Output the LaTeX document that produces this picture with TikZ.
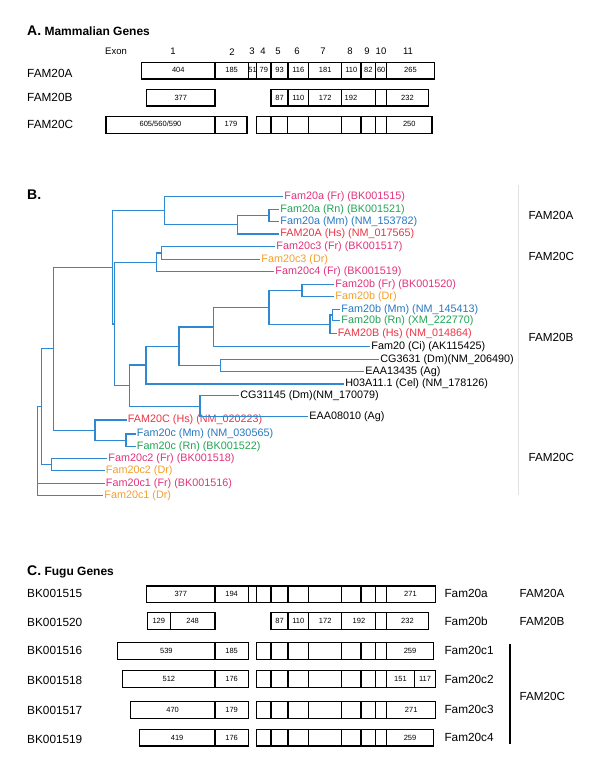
\documentclass[tikz,border=0pt]{standalone}
\usepackage{fontspec}
\setmainfont{Liberation Sans}
\definecolor{cfr}{HTML}{E0347C}
\definecolor{crn}{HTML}{22A555}
\definecolor{cmm}{HTML}{2878C2}
\definecolor{chs}{HTML}{EE3444}
\definecolor{cdr}{HTML}{F5A02C}
\definecolor{ctree}{HTML}{2F88D2}
\definecolor{cgrey}{HTML}{E2E2E2}
\begin{document}
\begin{tikzpicture}[x=1pt,y=-1pt,
  title/.style={anchor=west,inner sep=0pt,font=\bfseries\fontsize{12}{14}\selectfont},
  rowlab/.style={anchor=west,inner sep=0pt,font=\fontsize{11.8}{14}\selectfont},
  hdr/.style={inner sep=0pt,font=\fontsize{9.5}{11}\selectfont},
  num/.style={inner sep=0pt,font=\fontsize{7.5}{9}\selectfont},
  exonbox/.style={draw=black,line width=1.5pt},
  leaf/.style={anchor=west,inner xsep=1.2pt,inner ysep=0pt,font=\fontsize{10.8}{13}\selectfont},
  branch/.style={draw=ctree,line width=1.3pt},
  famlab/.style={anchor=west,inner sep=0pt,font=\fontsize{11.7}{14}\selectfont}]
\useasboundingbox (0,0) rectangle (600,770);
\fill[white] (0,0) rectangle (600,770);

%%%%%%%%%%%%%%%% Panel A
\node[title] (tA) at (27,30.7) {{\fontsize{14}{16}\selectfont A.} Mammalian Genes};
\node[hdr] (hex) at (116,51.7) {Exon};
\foreach \n/\x in {1/173,2/232,3/252,4/263,5/278,6/297,7/323,8/350,9/367,10/381,11/408}
  \node[hdr] (h\n) at (\x,51.7) {\n};

\node[rowlab] (rA) at (27,73.3) {FAM20A};
\node[rowlab] (rB) at (27,97.3) {FAM20B};
\node[rowlab] (rC) at (27,124.3) {FAM20C};

% FAM20A
\draw[exonbox] (141.7,62.3) rectangle (434.3,79);
\foreach \x in {215,248.3,256.7,271,288,308.7,341.7,361,375.7,386.7}
  \draw[exonbox] (\x,62.3) -- (\x,79);
\foreach \t/\x in {404/178.3,185/231.6,51/252.5,79/263.8,93/279.5,116/298.3,181/325.2,110/351.3,82/368.3,60/381.2,265/410.5}
  \node[num] at (\x,70.3) {\t};

% FAM20B
\draw[exonbox] (146.7,89.7) rectangle (215,106);
\node[num] at (180.8,97.5) {377};
\draw[exonbox] (271,89.7) rectangle (428.3,106);
\foreach \x in {288,308.7,341.7,375.7,386.7}
  \draw[exonbox] (\x,89.7) -- (\x,106);
\foreach \t/\x in {87/279.5,110/298.3,172/325.2,192/351,232/407.5}
  \node[num] at (\x,97.5) {\t};

% FAM20C
\draw[exonbox] (106,116.3) rectangle (247,133.3);
\draw[exonbox] (215,116.3) -- (215,133.3);
\node[num] at (160.5,124.3) {605/560/590};
\node[num] at (231,124.3) {179};
\draw[exonbox] (256.7,116.3) rectangle (432,133.3);
\foreach \x in {271,287.3,308.7,341.7,361,375.7,386.7}
  \draw[exonbox] (\x,116.3) -- (\x,133.3);
\node[num] at (409.3,124.3) {250};

%%%%%%%%%%%%%%%% Panel B
\node[title] (tB) at (27,195) {{\fontsize{14}{16}\selectfont B.}};

% leaves
\node[leaf,text=cfr] (l1) at (283,196.7) {Fam20a (Fr) (BK001515)};
\node[leaf,text=crn] (l2) at (279,209.3) {Fam20a (Rn) (BK001521)};
\node[leaf,text=cmm] (l3) at (279,221.7) {Fam20a (Mm) (NM\_153782)};
\node[leaf,text=chs] (l4) at (279,234) {FAM20A (Hs) (NM\_017565)};
\node[leaf,text=cfr] (l5) at (275,246.7) {Fam20c3 (Fr) (BK001517)};
\node[leaf,text=cdr] (l6) at (260,259.3) {Fam20c3 (Dr)};
\node[leaf,text=cfr] (l7) at (274,271.7) {Fam20c4 (Fr) (BK001519)};
\node[leaf,text=cfr] (l8) at (334,284.3) {Fam20b (Fr) (BK001520)};
\node[leaf,text=cdr] (l9) at (334,296.7) {Fam20b (Dr)};
\node[leaf,text=cmm] (l10) at (340,309.3) {Fam20b (Mm) (NM\_145413)};
\node[leaf,text=crn] (l11) at (340,320.7) {Fam20b (Rn) (XM\_222770)};
\node[leaf,text=chs] (l12) at (336.5,333.3) {FAM20B (Hs) (NM\_014864)};
\node[leaf] (l13) at (370,346.7) {Fam20 (Ci) (AK115425)};
\node[leaf] (l14) at (379,359.3) {CG3631 (Dm)(NM\_206490)};
\node[leaf] (l15) at (364,371.7) {EAA13435 (Ag)};
\node[leaf] (l16) at (344,384) {H03A11.1 (Cel) (NM\_178126)};
\node[leaf] (l17) at (239,395.7) {CG31145 (Dm)(NM\_170079)};
\node[leaf] (l18) at (308,416.7) {EAA08010 (Ag)};
\node[leaf,text=chs] (l19) at (126.5,420) {FAM20C (Hs) (NM\_020223)};
\node[leaf,text=cmm] (l20) at (135.5,434) {Fam20c (Mm) (NM\_030565)};
\node[leaf,text=crn] (l21) at (135.5,446.7) {Fam20c (Rn) (BK001522)};
\node[leaf,text=cfr] (l22) at (107,458.3) {Fam20c2 (Fr) (BK001518)};
\node[leaf,text=cdr] (l23) at (104.5,470.7) {Fam20c2 (Dr)};
\node[leaf,text=cfr] (l24) at (104.5,483.3) {Fam20c1 (Fr) (BK001516)};
\node[leaf,text=cdr] (l25) at (103,495.7) {Fam20c1 (Dr)};

% internal nodes
\coordinate (nA1) at (269,215.5);
\coordinate (nA2) at (237.7,224.6);
\coordinate (nA3) at (164.3,210.7);
\coordinate (nC1) at (161.3,253);
\coordinate (nC2) at (156.7,262.4);
\coordinate (nB1) at (302,290.5);
\coordinate (nB2) at (332.7,315);
\coordinate (nB3) at (330,324.2);
\coordinate (nB4) at (269,307.3);
\coordinate (nB5) at (213.3,327);
\coordinate (nI1) at (220.7,365.5);
\coordinate (nB6) at (179,346.2);
\coordinate (nB7) at (146,365.1);
\coordinate (nI2) at (200,406.2);
\coordinate (nB8) at (129.3,385.6);
\coordinate (nX1) at (114.7,324);
\coordinate (nX2) at (112.7,267.3);
\coordinate (nM1) at (126,440.3);
\coordinate (nM2) at (95,430.2);
\coordinate (nX3) at (53.3,348.7);
\coordinate (nF2) at (51.7,464.5);
\coordinate (nX4) at (41.7,406.6);
\coordinate (nR) at (37.7,451);

% branches
\path[branch]
  (nA1) |- (l2.west)  (nA1) |- (l3.west)
  (nA2) |- (nA1)      (nA2) |- (l4.west)
  (nA3) |- (l1.west)  (nA3) |- (nA2)
  (nC1) |- (l5.west)  (nC1) |- (l6.west)
  (nC2) |- (nC1)      (nC2) |- (l7.west)
  (nB1) |- (l8.west)  (nB1) |- (l9.west)
  (nB2) |- (l10.west) (nB2) |- (l11.west)
  (nB3) |- (nB2)      (nB3) |- (l12.west)
  (nB4) |- (nB1)      (nB4) |- (nB3)
  (nB5) |- (nB4)      (nB5) |- (l13.west)
  (nI1) |- (l14.west) (nI1) |- (l15.west)
  (nB6) |- (nB5)      (nB6) |- (nI1)
  (nB7) |- (nB6)      (nB7) |- (l16.west)
  (nI2) |- (l17.west) (nI2) |- (l18.west)
  (nB8) |- (nB7)      (nB8) |- (nI2)
  (nX1) |- (nC2)      (nX1) |- (nB8)
  (nX2) |- (nA3)      (nX2) |- (nX1)
  (nM1) |- (l20.west) (nM1) |- (l21.west)
  (nM2) |- (l19.west) (nM2) |- (nM1)
  (nX3) |- (nX2)      (nX3) |- (nM2)
  (nF2) |- (l22.west) (nF2) |- (l23.west)
  (nX4) |- (nX3)      (nX4) |- (nF2)
  (nR) |- (nX4)       (nR) |- (l24.west)  (nR) |- (l25.west);

% family labels
\coordinate (gtop) at (518.3,185);
\coordinate (gbot) at (518.3,495);
\draw[cgrey,line width=0.8pt] (gtop) -- (gbot);
\node[famlab] (fA) at (528.3,215.7) {FAM20A};
\node[famlab] (fC1) at (528.3,256) {FAM20C};
\node[famlab] (fB) at (528.3,337.7) {FAM20B};
\node[famlab] (fC2) at (528.3,457.3) {FAM20C};

%%%%%%%%%%%%%%%% Panel C
\node[title] (tC) at (27,571.7) {{\fontsize{14}{16}\selectfont C.} Fugu Genes};

\node[rowlab] (c1) at (27,593.8) {BK001515};
\node[rowlab] (c2) at (27,622.2) {BK001520};
\node[rowlab] (c3) at (27,650.5) {BK001516};
\node[rowlab] (c4) at (27,680.5) {BK001518};
\node[rowlab] (c5) at (27,710.3) {BK001517};
\node[rowlab] (c6) at (27,739.5) {BK001519};

% row 1
\draw[exonbox] (146.7,586) rectangle (435.7,602.7);
\foreach \x in {215,248.3,256.7,271,288,308.7,341.7,361,375.7,386.7}
  \draw[exonbox] (\x,586) -- (\x,602.7);
\node[num] at (180.8,594.3) {377};
\node[num] at (231.6,594.3) {194};
\node[num] at (410.5,594.3) {271};

% row 2
\draw[exonbox] (147.3,612.7) rectangle (215,629.3);
\draw[exonbox] (170.3,612.7) -- (170.3,629.3);
\node[num] at (158.8,621) {129};
\node[num] at (192.6,621) {248};
\draw[exonbox] (271,612.7) rectangle (428.3,629.3);
\foreach \x in {288,308.7,341.7,375.7,386.7}
  \draw[exonbox] (\x,612.7) -- (\x,629.3);
\foreach \t/\x in {87/279.5,110/298.3,172/325.2,192/359,232/407.5}
  \node[num] at (\x,621) {\t};

% rows 3-6
\foreach \ya/\yb/\xs/\ta/\tb/\xe [count=\i] in
  {642.7/659.3/117.7/539/185/433.3, 670.7/687.7/122.7/512/176/435.7,
   701.3/718.3/130.3/470/179/435.7, 729.3/746/139.3/419/176/433.3}{
  \draw[exonbox] (\xs,\ya) rectangle (248.3,\yb);
  \draw[exonbox] (215,\ya) -- (215,\yb);
  \node[num] at ({(\xs+215)/2},{(\ya+\yb)/2}) {\ta};
  \node[num] at (231.6,{(\ya+\yb)/2}) {\tb};
  \draw[exonbox] (256.7,\ya) rectangle (\xe,\yb);
  \foreach \x in {271,288,308.7,341.7,361,375.7,386.7}
    \draw[exonbox] (\x,\ya) -- (\x,\yb);
}
\draw[exonbox] (414.3,670.7) -- (414.3,687.7);
\node[num] at (410,651) {259};
\node[num] at (400.5,679.2) {151};
\node[num] at (425,679.2) {117};
\node[num] at (411.2,709.8) {271};
\node[num] at (410,737.6) {259};

% gene names
\node[rowlab] (g1) at (444.3,593.8) {Fam20a};
\node[rowlab] (g2) at (444.3,621) {Fam20b};
\node[rowlab] (g3) at (444.3,650.5) {Fam20c1};
\node[rowlab] (g4) at (444.3,679) {Fam20c2};
\node[rowlab] (g5) at (444.3,709.3) {Fam20c3};
\node[rowlab] (g6) at (444.3,737.2) {Fam20c4};

\node[famlab] (fa) at (519.3,593.8) {FAM20A};
\node[famlab] (fb) at (519.3,621) {FAM20B};
\coordinate (vtop) at (510,644.3);
\coordinate (vbot) at (510,744.3);
\draw[black,line width=1.2pt] (vtop) -- (vbot);
\node[famlab] (fc) at (519.3,696) {FAM20C};
\end{tikzpicture}
\end{document}
